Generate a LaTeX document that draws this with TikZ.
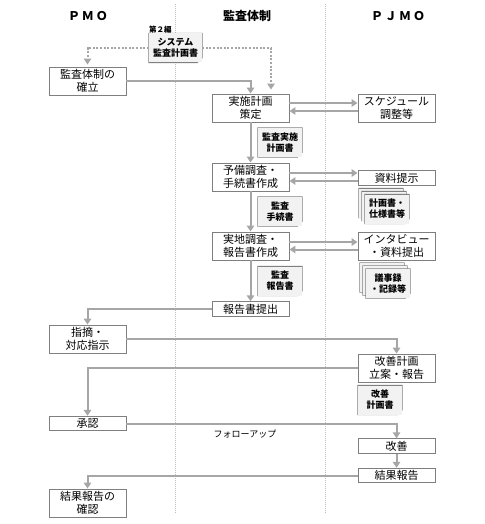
\documentclass[tikz,border=0pt]{standalone}
\usepackage{fontspec}
\setmainfont{Noto Sans CJK JP}
\usetikzlibrary{arrows.meta,calc}
\definecolor{arrgray}{HTML}{A6A6A6}
\definecolor{boxgray}{HTML}{7F7F7F}
\definecolor{docfill}{HTML}{F2F2F2}
\definecolor{docfold}{HTML}{D9D9D9}
\definecolor{divgray}{HTML}{BFBFBF}
\begin{document}
\begin{tikzpicture}[x=1pt,y=-1pt,
  box/.style={draw=boxgray, line width=0.9pt, fill=white, minimum width=77pt, inner sep=0pt, align=center, font=\fontsize{11}{13}\selectfont},
  tall/.style={box, minimum height=28pt},
  flat/.style={box, minimum height=14.5pt},
  docline/.style={draw=boxgray, line width=0.9pt},
  docnode/.style={fill=docfill, draw=none, minimum width=44pt, minimum height=29pt, inner sep=0pt, align=center,
    font=\fontsize{9}{11}\selectfont\bfseries,
    append after command={\pgfextra{
      \fill[white] ([xshift=-5pt]\tikzlastnode.south east) -- (\tikzlastnode.south east) -- ([yshift=5pt]\tikzlastnode.south east) -- cycle;
      \draw[docline] (\tikzlastnode.north west) -- (\tikzlastnode.north east) -- ([yshift=5pt]\tikzlastnode.south east) -- ([xshift=-5pt]\tikzlastnode.south east) -- (\tikzlastnode.south west) -- cycle;
      \draw[docline, line width=0.6pt, fill=docfold] ([yshift=5pt]\tikzlastnode.south east) -- ([xshift=-4pt,yshift=4pt]\tikzlastnode.south east) -- ([xshift=-5pt]\tikzlastnode.south east);
    }}},
  hdr/.style={font=\fontsize{12}{14}\selectfont\bfseries},
  arr/.style={draw=arrgray, line width=2pt, -{Triangle[width=7.5pt,length=6pt]}},
  darr/.style={arr, dash pattern=on 2pt off 1.6pt},
  divline/.style={draw=divgray, line width=0.6pt, dash pattern=on 1pt off 1pt},
  lbl/.style={font=\fontsize{9}{11}\selectfont}
]
\useasboundingbox (0,0) rectangle (484,524);

% column dividers
\draw[divline] (175,4) -- (175,514);
\draw[divline] (325,4) -- (325,514);

% headers
\node[hdr] (hpmo) at (88,16) {Ｐ\,Ｍ\,Ｏ};
\node[hdr] (hkan) at (247,16) {監査体制};
\node[hdr] (hpj) at (398,16) {Ｐ\,Ｊ\,Ｍ\,Ｏ};

% documents
\node[docnode, minimum width=53pt] (d0) at (175.5,48) {システム\\監査計画書};
\node[lbl, font=\fontsize{7.5}{9}\selectfont\bfseries, anchor=south west, inner sep=0pt] (vol) at (149,33) {第２編};
\node[docnode] (d1) at (280,142.5) {監査実施\\計画書};
\node[docnode] (d2) at (280,211.5) {監査\\手続書};
\node[docnode] (d3) at (280,281) {監査\\報告書};
\node[docnode] (d4) at (380,400) {改善\\計画書};

% stacks
\node[docnode] (s1a) at (381,203) {};
\node[docnode] (s1b) at (384,206) {};
\node[docnode] (s1c) at (387,209) {計画書・\\仕様書等};
\node[docnode] (s2a) at (382,277.5) {};
\node[docnode] (s2b) at (385,280.5) {};
\node[docnode] (s2c) at (388,283.5) {議事録\\・記録等};

% boxes
\node[tall] (b1) at (87.5,81) {監査体制の\\確立};
\node[tall] (b2) at (250.5,108) {実施計画\\策定};
\node[tall] (b3) at (396.5,108) {スケジュール\\調整等};
\node[tall] (b4) at (250.5,177) {予備調査・\\手続書作成};
\node[flat] (b5) at (396.5,178) {資料提示};
\node[tall] (b6) at (250.5,246) {実地調査・\\報告書作成};
\node[tall] (b7) at (396.5,246) {インタビュー\\・資料提出};
\node[flat] (b8) at (250.5,309) {報告書提出};
\node[tall] (b9) at (87.5,339) {指摘・\\対応指示};
\node[tall] (b10) at (396.5,368) {改善計画\\立案・報告};
\node[flat] (b11) at (87.5,423.5) {承認};
\node[flat] (b12) at (396.5,446) {改善};
\node[flat] (b13) at (396.5,475.5) {結果報告};
\node[tall] (b14) at (87.5,503) {結果報告の\\確認};

\node[lbl] (fu) at (245,434) {フォローアップ};

% dotted connectors from system audit plan
\coordinate (k1) at (271,48);
\draw[darr, shorten >=2pt] (d0.west) -| (b1.north);
\draw[darr] (d0.east) -- (k1) -- ([yshift=4pt]k1 |- b2.north);

% main flow
\draw[arr] (b1.east) -| (b2.north);
\draw[arr] ([yshift=5pt]b2.east) -- ([yshift=5pt]b2.east -| b3.west);
\draw[arr] ([yshift=-3pt]b2.east -| b3.west) -- ([yshift=-3pt]b2.east);
\draw[arr] (b2.south) -- (b4.north);
\draw[arr] ([yshift=4pt]b4.east) -- ([yshift=4pt]b4.east -| b5.west);
\draw[arr] ([yshift=-4pt]b4.east -| b5.west) -- ([yshift=-4pt]b4.east);
\draw[arr] (b4.south) -- (b6.north);
\draw[arr] ([yshift=4pt]b6.east) -- ([yshift=4pt]b6.east -| b7.west);
\draw[arr] ([yshift=-3.5pt]b6.east -| b7.west) -- ([yshift=-3.5pt]b6.east);
\draw[arr] (b6.south) -- (b8.north);
\draw[arr] (b8.west) -| (b9.north);
\draw[arr] (b9.east) -| (b10.north);
\draw[arr] (b10.west) -| (b11.north);
\draw[arr] (b11.east) -| (b12.north);
\draw[arr] (b12.south) -- (b13.north);
\draw[arr] (b13.west) -| (b14.north);
\end{tikzpicture}
\end{document}
